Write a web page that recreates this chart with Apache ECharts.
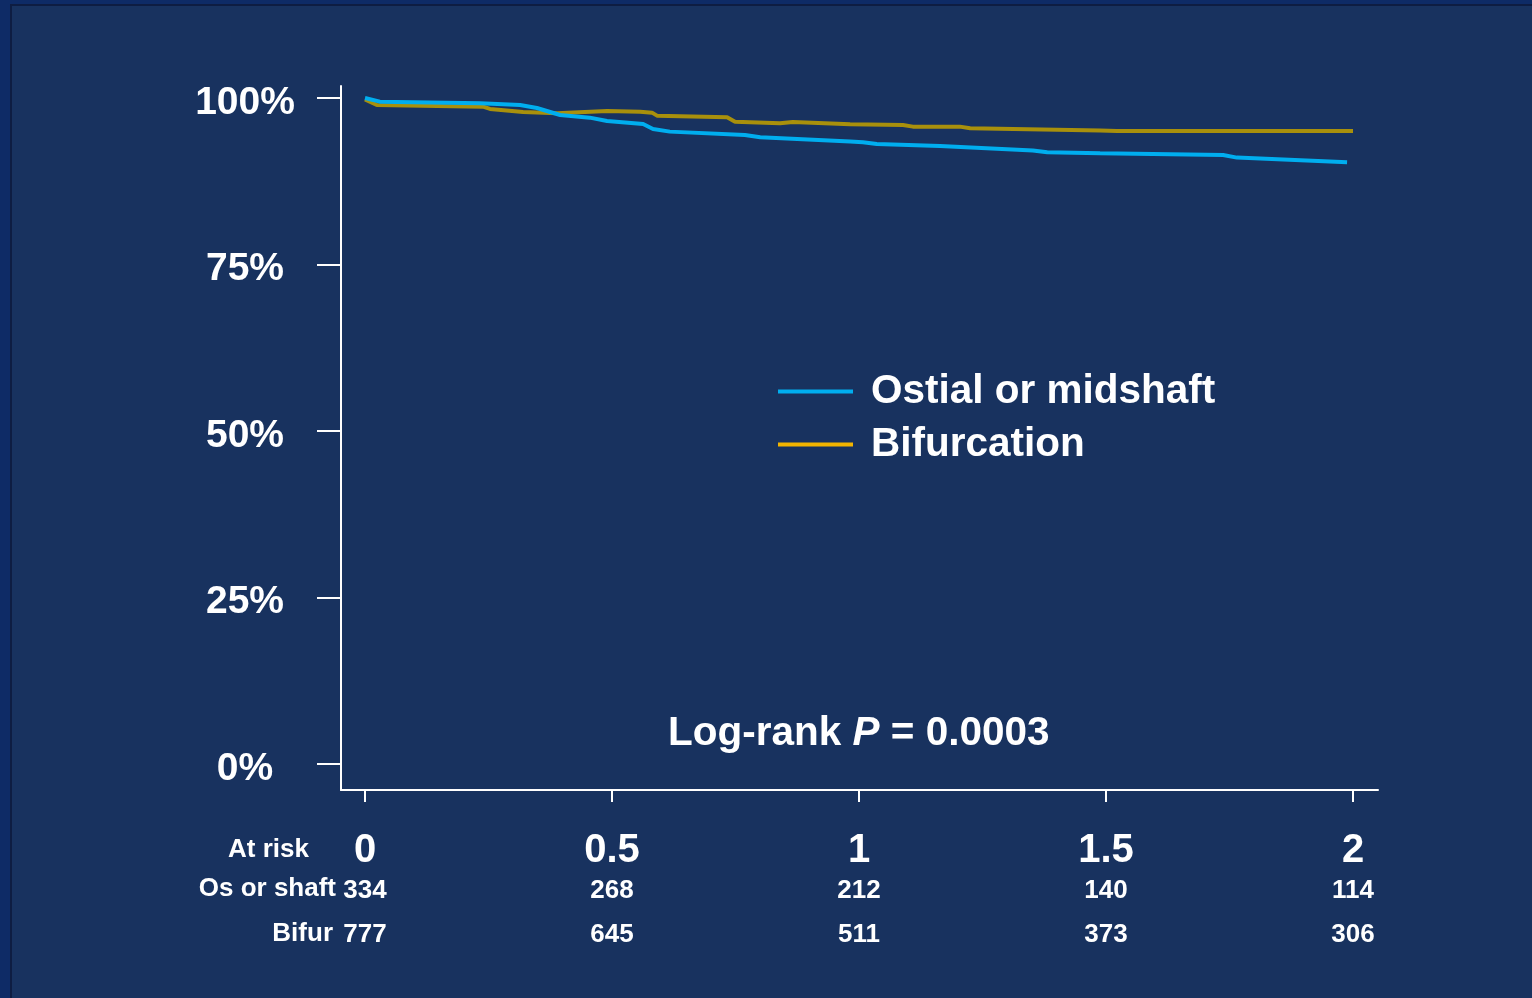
<!DOCTYPE html>
<html>
<head>
<meta charset="utf-8">
<script src="https://cdn.jsdelivr.net/npm/echarts@6/dist/echarts.min.js"></script>
<style>
  html, body { margin: 0; padding: 0; width: 1532px; height: 998px; overflow: hidden; background: #0E2B66; }
  #panel { position: absolute; left: 10px; top: 4px; width: 1522px; height: 994px; background: #18325F; border-left: 2px solid #0E1D42; border-top: 2px solid #0E1D42; box-sizing: border-box; }
  #chart { position: absolute; left: 0; top: 0; width: 1532px; height: 998px; }
</style>
</head>
<body>
<div id="panel"></div>
<div id="chart"></div>
<script>
// ---- Data ----
const ostialT = [0, 0.030, 0.233, 0.314, 0.348, 0.395, 0.455, 0.490, 0.563, 0.583, 0.617, 0.769, 0.800, 0.982, 1.008, 1.036, 1.164, 1.352, 1.381, 1.488, 1.737, 1.765, 1.988];
const ostialS = [100, 99.45, 99.2, 98.95, 98.5, 97.45, 97.05, 96.55, 96.1, 95.35, 94.95, 94.45, 94.1, 93.45, 93.35, 93.1, 92.8, 92.1, 91.85, 91.7, 91.45, 91.05, 90.35];
const bifurT = [0, 0.024, 0.239, 0.253, 0.320, 0.389, 0.490, 0.557, 0.581, 0.591, 0.733, 0.749, 0.840, 0.866, 0.982, 1.089, 1.109, 1.204, 1.225, 1.488, 1.522, 2.0];
const bifurS = [99.8, 98.95, 98.7, 98.35, 97.9, 97.7, 98.05, 97.95, 97.8, 97.35, 97.1, 96.45, 96.2, 96.4, 96.05, 95.95, 95.7, 95.7, 95.45, 95.1, 95.05, 95.05];
const xTicks = [0, 0.5, 1, 1.5, 2];
const yTicks = [0, 25, 50, 75, 100];
const riskOstial = [334, 268, 212, 140, 114];
const riskBifur = [777, 645, 511, 373, 306];
const seriesNames = ['Ostial or midshaft', 'Bifurcation'];

const FONT = 'Liberation Sans, Arial, sans-serif';
const zip = (a, b) => a.map((v, i) => [v, b[i]]);
const tickIndex = v => xTicks.findIndex(t => Math.abs(t - v) < 1e-6);

const chart = echarts.init(document.getElementById('chart'), null, { renderer: 'canvas' });

const riskAxis = (arr, margin) => ({
  type: 'value', gridIndex: 0, position: 'bottom', min: -0.0486, max: 2.0506,
  axisLine: { show: false }, axisTick: { show: false }, splitLine: { show: false },
  axisLabel: {
    customValues: xTicks, margin: margin,
    formatter: v => { const i = tickIndex(v); return i >= 0 ? String(arr[i]) : ''; },
    color: '#FFFFFF', fontFamily: FONT, fontWeight: 'bold', fontSize: 26
  }
});

chart.setOption({
  backgroundColor: 'transparent',
  animation: false,
  grid: { left: 341, right: 154, top: 86, bottom: 208, containLabel: false },
  xAxis: [
    {
      type: 'value', min: -0.0486, max: 2.0506,
      axisLine: { onZero: false, lineStyle: { color: '#FFFFFF', width: 2 } },
      axisTick: { customValues: xTicks, length: 12, lineStyle: { color: '#FFFFFF', width: 2 } },
      splitLine: { show: false },
      axisLabel: {
        customValues: xTicks, margin: 41,
        formatter: v => String(v),
        color: '#FFFFFF', fontFamily: FONT, fontWeight: 'bold', fontSize: 40
      }
    },
    riskAxis(riskOstial, 88),
    riskAxis(riskBifur, 132)
  ],
  yAxis: {
    type: 'value', min: -3.9, max: 101.8,
    axisLine: { onZero: false, lineStyle: { color: '#FFFFFF', width: 2 } },
    axisTick: { customValues: yTicks, length: 24, lineStyle: { color: '#FFFFFF', width: 2 } },
    splitLine: { show: false },
    axisLabel: {
      customValues: yTicks, margin: 96, align: 'center',
      formatter: v => '{p|' + v + '%}',
      rich: { p: { color: '#FFFFFF', fontFamily: FONT, fontWeight: 'bold', fontSize: 39, padding: [10, 0, 0, 0] } },
      color: '#FFFFFF', fontFamily: FONT, fontWeight: 'bold', fontSize: 39
    }
  },
  legend: {
    orient: 'vertical', left: 773, top: 366,
    icon: 'rect', itemWidth: 75, itemHeight: 4, itemGap: 12,
    data: [
      { name: seriesNames[0], itemStyle: { color: '#00AEEF' } },
      { name: seriesNames[1], itemStyle: { color: '#F2B400' } }
    ],
    textStyle: { color: '#FFFFFF', fontFamily: FONT, fontWeight: 'bold', fontSize: 40.5, padding: [0, 0, 0, 13] }
  },
  graphic: [
    { type: 'text', right: 1532 - 309, top: 837, style: { text: 'At risk', fill: '#FFFFFF', font: 'bold 26px ' + FONT } },
    { type: 'text', right: 1532 - 336, top: 876, style: { text: 'Os or shaft', fill: '#FFFFFF', font: 'bold 26px ' + FONT } },
    { type: 'text', right: 1532 - 333, top: 921, style: { text: 'Bifur', fill: '#FFFFFF', font: 'bold 26px ' + FONT } },
    {
      type: 'text', left: 668, top: 713,
      style: {
        text: '{a|Log-rank }{b|P}{a| = 0.0003}',
        rich: {
          a: { fill: '#FFFFFF', fontFamily: FONT, fontWeight: 'bold', fontSize: 40.5 },
          b: { fill: '#FFFFFF', fontFamily: FONT, fontWeight: 'bold', fontStyle: 'italic', fontSize: 40.5 }
        }
      }
    }
  ],
  series: [
    {
      name: seriesNames[1], type: 'line', xAxisIndex: 0, showSymbol: false, z: 2,
      data: zip(bifurT, bifurS),
      itemStyle: { color: '#F2B400' },
      lineStyle: { color: '#A8900C', width: 4 }
    },
    {
      name: seriesNames[0], type: 'line', xAxisIndex: 0, showSymbol: false, z: 3,
      data: zip(ostialT, ostialS),
      itemStyle: { color: '#00AEEF' },
      lineStyle: { color: '#00AEEF', width: 4 }
    }
  ]
});
</script>
</body>
</html>
